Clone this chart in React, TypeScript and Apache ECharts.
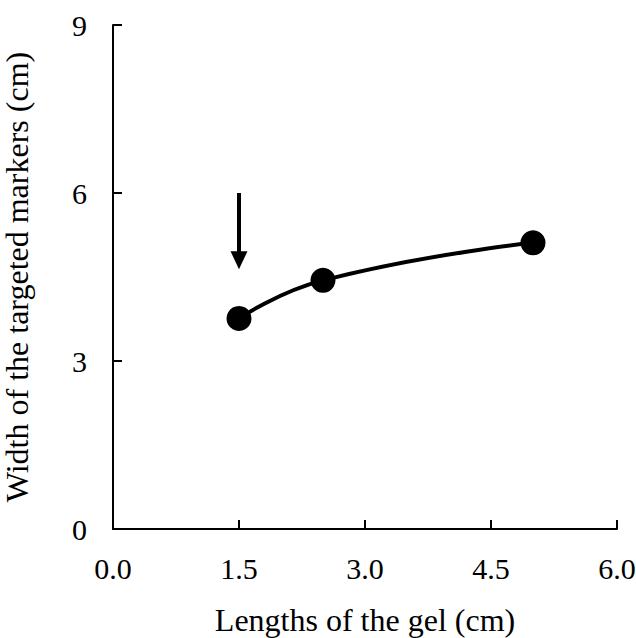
import React, { useEffect, useRef } from "react";
import * as echarts from "echarts";

const xValues = [1.5, 2.5, 5.0];
const yValues = [3.76, 4.44, 5.11];
const arrowX = 1.5;
const arrowStart = 6.0;
const arrowEnd = 4.8;
const xAxisTitle = "Lengths of the gel (cm)";
const yAxisTitle = "Width of the targeted markers (cm)";

const FONT = "Liberation Serif, Tinos, Times New Roman, DejaVu Serif, serif";

export default function App() {
  const ref = useRef<HTMLDivElement>(null);
  useEffect(() => {
    if (!ref.current) return;
    const chart = echarts.init(ref.current, undefined, { renderer: "svg" });
    const axisCommon = {
      axisLine: { show: true, lineStyle: { color: "#000", width: 2 } },
      axisTick: { show: true, inside: true, length: 9, lineStyle: { color: "#000", width: 2 } },
      splitLine: { show: false },
      nameLocation: "middle" as const,
      nameTextStyle: { fontFamily: FONT, fontSize: 32, color: "#000" },
    };
    chart.setOption({
      animation: false,
      backgroundColor: "#fff",
      textStyle: { fontFamily: FONT },
      grid: {
        left: 113,
        right: 19,
        top: 25,
        bottom: 109,
        containLabel: false,
        outerBoundsMode: "none",
      },
      xAxis: {
        type: "value",
        min: 0,
        max: 6,
        interval: 1.5,
        name: xAxisTitle,
        nameGap: 75,
        ...axisCommon,
        axisLabel: {
          fontFamily: FONT,
          fontSize: 30,
          color: "#000",
          margin: 24,
          formatter: (v: number) => v.toFixed(1),
        },
      },
      yAxis: {
        type: "value",
        min: 0,
        max: 9,
        interval: 3,
        name: yAxisTitle,
        nameGap: 80,
        ...axisCommon,
        axisLabel: {
          fontFamily: FONT,
          fontSize: 30,
          color: "#000",
          margin: 26,
        },
      },
      series: [
        {
          type: "line",
          data: xValues.map((x, i) => [x, yValues[i]]),
          smooth: 0.5,
          symbol: "circle",
          symbolSize: 25,
          lineStyle: { color: "#000", width: 4 },
          itemStyle: { color: "#000" },
          z: 3,
          markLine: {
            silent: true,
            animation: false,
            label: { show: false },
            lineStyle: { color: "#000", width: 4, type: "solid" },
            symbol: ["none", "triangle"],
            symbolSize: [17, 18],
            data: [
              [
                { coord: [arrowX, arrowStart] },
                { coord: [arrowX, arrowEnd] },
              ],
            ],
          },
        },
      ],
    });
    return () => chart.dispose();
  }, []);
  return (
    <div
      ref={ref}
      style={{ position: "fixed", left: 0, top: 0, width: 636, height: 638 }}
    />
  );
}
